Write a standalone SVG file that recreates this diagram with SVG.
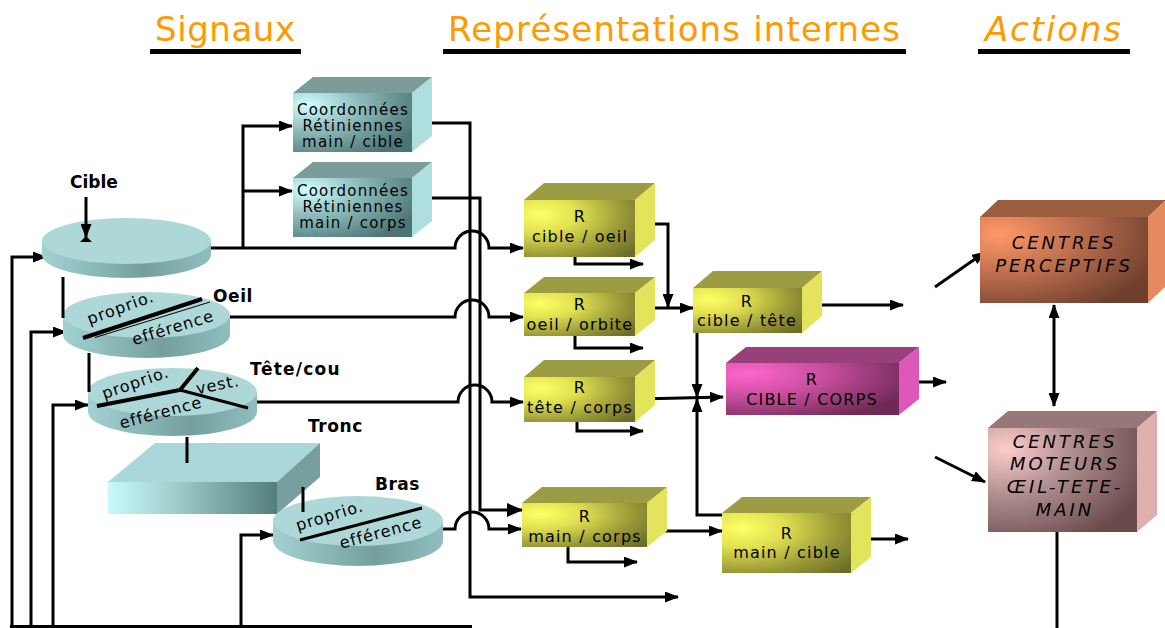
<svg xmlns="http://www.w3.org/2000/svg" width="1165" height="628" viewBox="0 0 1165 628">
<defs>
<style>
.title{font-family:"DejaVu Sans",sans-serif;font-size:34px;fill:#FF9A00;}
.lbl{font-family:"DejaVu Sans",sans-serif;font-size:17px;font-weight:bold;fill:#000;}
.dt{font-family:"DejaVu Sans",sans-serif;font-size:16px;fill:#000;letter-spacing:1px;text-anchor:middle;}
.bt{font-family:"DejaVu Sans",sans-serif;font-size:15px;fill:#000;letter-spacing:1.2px;text-anchor:middle;}
.rt{font-family:"DejaVu Sans",sans-serif;font-size:16px;fill:#000;letter-spacing:1.2px;text-anchor:middle;}
.ct{font-family:"DejaVu Sans",sans-serif;font-size:18px;font-style:italic;fill:#000;letter-spacing:3px;text-anchor:middle;}
.ln{fill:none;stroke:#000;stroke-width:3;}
.ar{marker-end:url(#ah);}
.dtop{fill:#AED8D8;}
.dside{fill:url(#gDiskSide);}
.dl{stroke:#000;fill:none;}
.yTop{fill:#9C9C42;} .ySide{fill:#E3E35C;}
.cTop{fill:#7C9C9C;} .cSide{fill:#AEDEDE;}
.pTop{fill:#98407A;} .pSide{fill:#DE58B8;}
.oTop{fill:#9C5D3E;} .oSide{fill:#E48A5E;}
.mTop{fill:#977777;} .mSide{fill:#DFAEAE;}
</style>
<marker id="ah" markerUnits="userSpaceOnUse" markerWidth="14" markerHeight="11" viewBox="0 0 14 11" refX="13" refY="5.5" orient="auto-start-reverse">
<path d="M0,0 L14,5.5 L0,11 z" fill="#000"/>
</marker>
<marker id="ahBig" markerUnits="userSpaceOnUse" markerWidth="16" markerHeight="14" viewBox="0 0 16 14" refX="15" refY="7" orient="auto">
<path d="M0,0 L16,7 L0,14 z" fill="#000"/>
</marker>
<linearGradient id="gDiskSide" x1="0" y1="0" x2="1" y2="0">
<stop offset="0" stop-color="#A3D1D1"/><stop offset="0.6" stop-color="#759F9F"/><stop offset="1" stop-color="#90BEBE"/>
</linearGradient>
<radialGradient id="gYel" cx="0.15" cy="0.25" r="1.05">
<stop offset="0" stop-color="#FFFF66"/><stop offset="0.3" stop-color="#E2E252"/><stop offset="0.7" stop-color="#9A9A38"/><stop offset="1" stop-color="#6E6E28"/>
</radialGradient>
<radialGradient id="gCyan" cx="0.12" cy="0.2" r="1">
<stop offset="0" stop-color="#D0FFFF"/><stop offset="0.45" stop-color="#8CBABA"/><stop offset="1" stop-color="#4C7474"/>
</radialGradient>
<radialGradient id="gPink" cx="0.12" cy="0.2" r="1">
<stop offset="0" stop-color="#FF66CC"/><stop offset="0.45" stop-color="#C84E9E"/><stop offset="1" stop-color="#6E2A55"/>
</radialGradient>
<radialGradient id="gOrange" cx="0.12" cy="0.2" r="1">
<stop offset="0" stop-color="#FF9966"/><stop offset="0.45" stop-color="#C07050"/><stop offset="1" stop-color="#6E3F2C"/>
</radialGradient>
<radialGradient id="gRose" cx="0.12" cy="0.2" r="1">
<stop offset="0" stop-color="#FFCCCC"/><stop offset="0.45" stop-color="#AE8E8E"/><stop offset="1" stop-color="#6A4A4A"/>
</radialGradient>
<linearGradient id="gTronc" x1="0" y1="0" x2="1" y2="0">
<stop offset="0" stop-color="#C8FAFA"/><stop offset="0.35" stop-color="#A6D2D2"/><stop offset="1" stop-color="#547E7E"/>
</linearGradient>
</defs>
<rect width="1165" height="628" fill="#fff"/>

<g id="titles">
<text class="title" x="155" y="41" textLength="140" lengthAdjust="spacing">Signaux</text>
<rect x="150" y="49" width="151" height="5" fill="#000"/>
<text class="title" x="448" y="41" textLength="452" lengthAdjust="spacing">Représentations internes</text>
<rect x="443" y="49" width="463" height="5" fill="#000"/>
<text class="title" x="985" y="41" textLength="136" lengthAdjust="spacing" font-style="italic">Actions</text>
<rect x="978" y="49" width="152" height="5" fill="#000"/>
</g>

<g id="connectors">
<path class="ln ar" d="M12,627 V257 H46"/>
<path class="ln ar" d="M31,627 V332 H66"/>
<path class="ln ar" d="M53,627 V405 H88"/>
<path class="ln ar" d="M241,627 V535 H273"/>
<path class="ln" d="M10,626.5 H472"/>
<path class="ln ar" d="M211,248 H455 A17,17 0 0 1 489,248 H523"/>
<path class="ln ar" d="M243,248 V126 H292"/>
<path class="ln ar" d="M243,191 H292"/>
<path class="ln ar" d="M230,317 H455 A17,17 0 0 1 489,317 H523"/>
<path class="ln ar" d="M257,402 H458 A17,17 0 0 1 492,402 H523"/>
<path class="ln ar" d="M443,529 H455 A17,17 0 0 1 489,529 H521"/>
<path class="ln ar" d="M423,123 H470 V597 H678"/>
<path class="ln" d="M423,198 H480 V510 H522" marker-end="url(#ahBig)"/>
<path class="ln ar" d="M639,224 H668 V307"/>
<path class="ln ar" d="M575,257 V264 H643"/>
<path class="ln ar" d="M639,308 H693"/>
<path class="ln ar" d="M575,336 V348 H643"/>
<path class="ln ar" d="M639,399 L723,397"/>
<path class="ln ar" d="M577,422 V431 H643"/>
<path class="ln ar" d="M660,531 H722"/>
<path class="ln ar" d="M568,547 V562 H637"/>
<path class="ln ar" d="M808,305 H903"/>
<path class="ln ar" d="M697,333 V397"/>
<path class="ln ar" d="M725,515 H697 V399"/>
<path class="ln ar" d="M860,539 H908"/>
<path class="ln ar" d="M908,382 H946"/>
<path class="ln ar" d="M935,287 L985,252" stroke-width="4"/>
<path class="ln ar" d="M935,457 L985,482" stroke-width="4"/>
<path class="ln ar" d="M1054,305 V406" stroke-width="4" marker-start="url(#ah)"/>
<path class="ln" d="M1057,532 V628"/>
</g>

<g id="disk-cible">
<path class="dside" d="M42,241 V255 A84.5,23 0 0 0 211,255 V241 Z"/>
<ellipse class="dtop" cx="126.5" cy="241" rx="84.5" ry="23"/>
<path class="ln ar" d="M86,197 V237"/>
<polygon points="80,242 92,242 86,236" fill="#000"/>
<text class="lbl" x="70" y="188">Cible</text>
</g>

<g id="disk-oeil">
<path class="dside" d="M63,315 V335 A83.5,23 0 0 0 230,335 V315 Z"/>
<ellipse class="dtop" cx="146.5" cy="315" rx="83.5" ry="23"/>
<path class="ln" d="M63,277 V318" stroke-width="2.5"/>
<line class="dl" x1="83" y1="338" x2="202" y2="299" stroke-width="4"/>
<line class="dl" x1="95" y1="337.5" x2="210" y2="302" stroke-width="1"/>
<text class="dt" x="121" y="313" transform="rotate(-20 121 309)">proprio.</text>
<text class="dt" x="173" y="333" transform="rotate(-17 173 328)">efférence</text>
<text class="lbl" x="213" y="302" letter-spacing="0.6">Oeil</text>
</g>

<g id="disk-tete">
<path class="dside" d="M88,392 V412 A84.5,24 0 0 0 257,412 V392 Z"/>
<ellipse class="dtop" cx="172.5" cy="392" rx="84.5" ry="24"/>
<path class="ln" d="M89,353 V392" stroke-width="2.5"/>
<polyline class="dl" points="97,406 180,390 198,368" stroke-width="4"/>
<line class="dl" x1="180" y1="390" x2="248" y2="408" stroke-width="3"/>
<text class="dt" x="136" y="388" transform="rotate(-19 136 384)">proprio.</text>
<text class="dt" x="218" y="390" font-size="15" transform="rotate(-11 218 386)">vest.</text>
<text class="dt" x="161" y="418" transform="rotate(-15 161 413)">efférence</text>
<text class="lbl" x="250" y="375" letter-spacing="1.2">Tête/cou</text>
</g>

<g id="tronc">
<polygon points="108,482 155,443 320,443 277,482" fill="#AAD7D7"/>
<polygon points="277,482 320,443 320,477 277,514" fill="#789F9F"/>
<rect x="108" y="482" width="169" height="32" fill="url(#gTronc)"/>
<path class="ln" d="M187,437 V463" stroke-width="5"/>
<text class="lbl" x="308" y="432" letter-spacing="0.6">Tronc</text>
</g>

<g id="disk-bras">
<path class="dside" d="M273,521 V541 A85,25 0 0 0 443,541 V521 Z"/>
<ellipse class="dtop" cx="358" cy="521" rx="85" ry="25"/>
<line class="dl" x1="300" y1="540" x2="422" y2="508" stroke-width="3"/>
<path class="ln" d="M303,487 V512"/>
<text class="dt" x="330" y="521" transform="rotate(-17 330 517)">proprio.</text>
<text class="dt" x="381" y="538" transform="rotate(-15 381 533)">efférence</text>
<text class="lbl" x="375" y="490" letter-spacing="0.5">Bras</text>
</g>

<g id="coord-main-cible">
<polygon class="cTop" points="293,93 313,77 432,77 412,93"/>
<polygon class="cSide" points="412,93 432,77 432,136 412,152"/>
<rect x="293" y="93" width="119" height="59" fill="url(#gCyan)"/>
<text class="bt" x="353" y="115">Coordonnées</text>
<text class="bt" x="353" y="131">Rétiniennes</text>
<text class="bt" x="353" y="147">main / cible</text>
</g>

<g id="coord-main-corps">
<polygon class="cTop" points="293,178 313,162 432,162 412,178"/>
<polygon class="cSide" points="412,178 432,162 432,221 412,237"/>
<rect x="293" y="178" width="119" height="59" fill="url(#gCyan)"/>
<text class="bt" x="353" y="196">Coordonnées</text>
<text class="bt" x="353" y="212">Rétiniennes</text>
<text class="bt" x="353" y="228">main / corps</text>
</g>

<g id="r-cible-oeil">
<polygon class="yTop" points="524,200 544,183 655,183 635,200"/>
<polygon class="ySide" points="635,200 655,183 655,240 635,257"/>
<rect x="524" y="200" width="111" height="57" fill="url(#gYel)"/>
<text class="rt" x="580" y="222">R</text>
<text class="rt" x="580" y="242">cible / oeil</text>
</g>

<g id="r-oeil-orbite">
<polygon class="yTop" points="524,293 544,277 655,277 635,293"/>
<polygon class="ySide" points="635,293 655,277 655,320 635,336"/>
<rect x="524" y="293" width="111" height="43" fill="url(#gYel)"/>
<text class="rt" x="580" y="310">R</text>
<text class="rt" x="580" y="330">oeil / orbite</text>
</g>

<g id="r-tete-corps">
<polygon class="yTop" points="524,377 544,360 655,360 635,377"/>
<polygon class="ySide" points="635,377 655,360 655,405 635,422"/>
<rect x="524" y="377" width="111" height="45" fill="url(#gYel)"/>
<text class="rt" x="580" y="393">R</text>
<text class="rt" x="580" y="413">tête / corps</text>
</g>

<g id="r-main-corps">
<polygon class="yTop" points="522,503 542,487 667,487 647,503"/>
<polygon class="ySide" points="647,503 667,487 667,531 647,547"/>
<rect x="522" y="503" width="125" height="44" fill="url(#gYel)"/>
<text class="rt" x="585" y="522">R</text>
<text class="rt" x="585" y="542">main / corps</text>
</g>

<g id="r-cible-tete">
<polygon class="yTop" points="693,288 713,271 822,271 802,288"/>
<polygon class="ySide" points="802,288 822,271 822,316 802,333"/>
<rect x="693" y="288" width="109" height="45" fill="url(#gYel)"/>
<text class="rt" x="747" y="307">R</text>
<text class="rt" x="747" y="326">cible / tête</text>
</g>

<g id="r-cible-corps">
<polygon class="pTop" points="726,363 746,347 919,347 899,363"/>
<polygon class="pSide" points="899,363 919,347 919,399 899,415"/>
<rect x="726" y="363" width="173" height="52" fill="url(#gPink)"/>
<text class="rt" x="812" y="385">R</text>
<text class="rt" x="812" y="405" letter-spacing="1.7">CIBLE / CORPS</text>
</g>

<g id="r-main-cible">
<polygon class="yTop" points="722,513 742,497 871,497 851,513"/>
<polygon class="ySide" points="851,513 871,497 871,557 851,573"/>
<rect x="722" y="513" width="129" height="60" fill="url(#gYel)"/>
<text class="rt" x="787" y="539">R</text>
<text class="rt" x="787" y="558">main / cible</text>
</g>

<g id="centres-perceptifs">
<polygon class="oTop" points="980,217 998,200 1166,200 1148,217"/>
<polygon class="oSide" points="1148,217 1166,200 1166,286 1148,303"/>
<rect x="980" y="217" width="168" height="86" fill="url(#gOrange)"/>
<text class="ct" x="1064" y="249">CENTRES</text>
<text class="ct" x="1064" y="272">PERCEPTIFS</text>
</g>

<g id="centres-moteurs">
<polygon class="mTop" points="988,428 1008,411 1157,411 1137,428"/>
<polygon class="mSide" points="1137,428 1157,411 1157,515 1137,532"/>
<rect x="988" y="428" width="149" height="104" fill="url(#gRose)"/>
<text class="ct" x="1065" y="448">CENTRES</text>
<text class="ct" x="1065" y="470" letter-spacing="3.7">MOTEURS</text>
<text class="ct" x="1065" y="493" letter-spacing="3.7">ŒIL-TETE-</text>
<text class="ct" x="1065" y="516" letter-spacing="4.5">MAIN</text>
</g>
</svg>
